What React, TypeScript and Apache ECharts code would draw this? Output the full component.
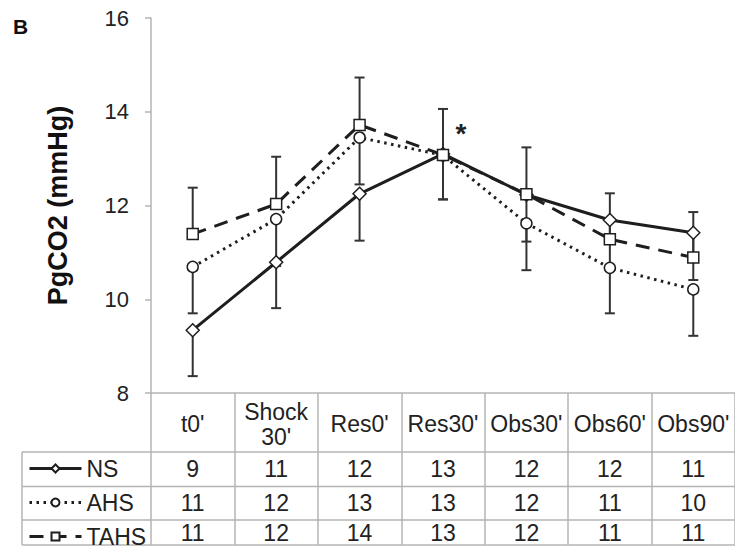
import React, { useEffect, useRef } from "react";
import * as echarts from "echarts";

const categories = ["t0'", "Shock\n30'", "Res0'", "Res30'", "Obs30'", "Obs60'", "Obs90'"];
const seriesNames = ["NS", "AHS", "TAHS"];
const nsValues = [9.34, 10.79, 12.25, 13.1, 12.23, 11.69, 11.42];
const ahsValues = [10.69, 11.71, 13.45, 13.07, 11.62, 10.67, 10.21];
const tahsValues = [11.39, 12.03, 13.72, 13.08, 12.24, 11.28, 10.89];
// error bar end points (one-sided, Excel style)
const nsErrEnd = [8.36, 9.81, 11.25, 12.13, 11.23, 10.69, 10.41];
const ahsErrEnd = [9.7, 10.71, 12.45, 12.13, 10.62, 9.7, 9.22];
const tahsErrEnd = [12.38, 13.04, 14.73, 14.06, 13.24, 12.26, 11.86];
// data table rows
const nsTable = [9, 11, 12, 13, 12, 12, 11];
const ahsTable = [11, 12, 13, 13, 12, 11, 10];
const tahsTable = [11, 12, 14, 13, 12, 11, 11];
const yMin = 8;
const yMax = 16;
const yInterval = 2;

const FONT = "'Liberation Sans', Arial, sans-serif";
const GRID_COLOR = "#b4b4b4";
const INK = "#1e1e1e";

function errSeries(name: string, values: number[], ends: number[]) {
  return {
    name,
    type: "custom",
    z: 1,
    silent: true,
    renderItem: (params: any, api: any) => {
      const x = api.value(0);
      const p0 = api.coord([x, api.value(1)]);
      const p1 = api.coord([x, api.value(2)]);
      const st = { stroke: "#333", lineWidth: 2 };
      return {
        type: "group",
        children: [
          { type: "line", shape: { x1: p0[0], y1: p0[1], x2: p1[0], y2: p1[1] }, style: st },
          { type: "line", shape: { x1: p1[0] - 5, y1: p1[1], x2: p1[0] + 5, y2: p1[1] }, style: st },
        ],
      };
    },
    encode: { x: 0, y: [1, 2] },
    data: values.map((v, i) => [i, v, ends[i]]),
  };
}

function tableAxis(values: number[], margin: number) {
  return {
    type: "category",
    gridIndex: 0,
    position: "bottom",
    data: categories,
    boundaryGap: true,
    axisLine: { show: false },
    axisTick: { show: false },
    axisLabel: {
      interval: 0,
      margin,
      verticalAlign: "middle",
      fontFamily: FONT,
      fontSize: 23,
      color: "#222",
      formatter: (_v: string, idx: number) => String(values[idx]),
    },
  };
}

function legendRow(name: string, top: number) {
  return {
    data: [name],
    orient: "horizontal",
    left: 28,
    top,
    padding: 0,
    itemWidth: 52,
    itemHeight: 10,
    lineStyle: { width: 3 },
    textStyle: { fontFamily: FONT, fontSize: 23, color: "#222" },
    selectedMode: false,
  };
}

export default function App() {
  const ref = useRef<HTMLDivElement>(null);
  useEffect(() => {
    if (!ref.current) return;
    const chart = echarts.init(ref.current, null, { renderer: "svg" });
    const hline = (y: number) => ({
      type: "line",
      shape: { x1: 22, y1: y, x2: 735, y2: y },
      style: { stroke: GRID_COLOR, lineWidth: 1.5 },
      silent: true,
    });
    const option: any = {
      animation: false,
      backgroundColor: "#ffffff",
      grid: { left: 151, top: 18, width: 588, height: 375, containLabel: false },
      legend: [legendRow(seriesNames[0], 457), legendRow(seriesNames[1], 491), legendRow(seriesNames[2], 525)],
      xAxis: [
        {
          type: "category",
          data: categories,
          boundaryGap: true,
          axisLine: { show: true, lineStyle: { color: GRID_COLOR, width: 1.5 } },
          axisTick: {
            show: true,
            interval: 0,
            alignWithLabel: false,
            length: 152,
            lineStyle: { color: GRID_COLOR, width: 1.5 },
          },
          axisLabel: {
            interval: 0,
            margin: 31,
            verticalAlign: "middle",
            lineHeight: 25,
            fontFamily: FONT,
            fontSize: 23,
            color: "#222",
          },
        },
        tableAxis(nsTable, 76),
        tableAxis(ahsTable, 110),
        tableAxis(tahsTable, 140),
      ],
      yAxis: {
        type: "value",
        min: yMin,
        max: yMax,
        interval: yInterval,
        name: "PgCO2 (mmHg)",
        nameLocation: "middle",
        nameGap: 80,
        nameRotate: 90,
        nameTextStyle: { fontFamily: FONT, fontSize: 27, fontWeight: "bold", color: "#111" },
        axisLine: { show: true, lineStyle: { color: GRID_COLOR, width: 1.5 } },
        axisTick: { show: true, length: 6, lineStyle: { color: GRID_COLOR, width: 1.5 } },
        splitLine: { show: false },
        axisLabel: { margin: 22, fontFamily: FONT, fontSize: 22, color: "#222" },
      },
      graphic: [
        {
          type: "text",
          left: 13,
          top: 16,
          style: { text: "B", font: `bold 21px ${FONT}`, fill: "#111" },
        },
        hline(452),
        hline(486.5),
        hline(520),
        hline(545),
        {
          type: "line",
          shape: { x1: 22, y1: 452, x2: 22, y2: 545 },
          style: { stroke: GRID_COLOR, lineWidth: 1.5 },
          silent: true,
        },
      ],
      series: [
        errSeries("NS err", nsValues, nsErrEnd),
        errSeries("AHS err", ahsValues, ahsErrEnd),
        errSeries("TAHS err", tahsValues, tahsErrEnd),
        {
          name: "NS",
          type: "line",
          z: 3,
          data: nsValues,
          symbol: "diamond",
          symbolSize: 13,
          showAllSymbol: true,
          lineStyle: { color: INK, width: 3, type: "solid" },
          itemStyle: { color: "#fff", borderColor: INK, borderWidth: 1.5 },
          markPoint: {
            symbol: "circle",
            symbolSize: 0,
            silent: true,
            data: [{ coord: [3, nsValues[3]] }],
            label: {
              show: true,
              formatter: "*",
              offset: [18, -20],
              fontFamily: FONT,
              fontSize: 28,
              fontWeight: "bold",
              color: "#222",
            },
          },
        },
        {
          name: "AHS",
          type: "line",
          z: 4,
          data: ahsValues,
          symbol: "circle",
          symbolSize: 11,
          showAllSymbol: true,
          lineStyle: { color: INK, width: 3, type: [2.5, 4.5] },
          itemStyle: { color: "#fff", borderColor: INK, borderWidth: 1.5 },
        },
        {
          name: "TAHS",
          type: "line",
          z: 5,
          data: tahsValues,
          symbol: "rect",
          symbolSize: 11,
          showAllSymbol: true,
          lineStyle: { color: INK, width: 3, type: [14, 9] },
          itemStyle: { color: "#fff", borderColor: INK, borderWidth: 1.5 },
        },
      ],
    };
    chart.setOption(option);
    return () => chart.dispose();
  }, []);
  return (
    <div
      ref={ref}
      style={{ position: "fixed", left: 0, top: 0, width: 735, height: 548, background: "#fff" }}
    />
  );
}
